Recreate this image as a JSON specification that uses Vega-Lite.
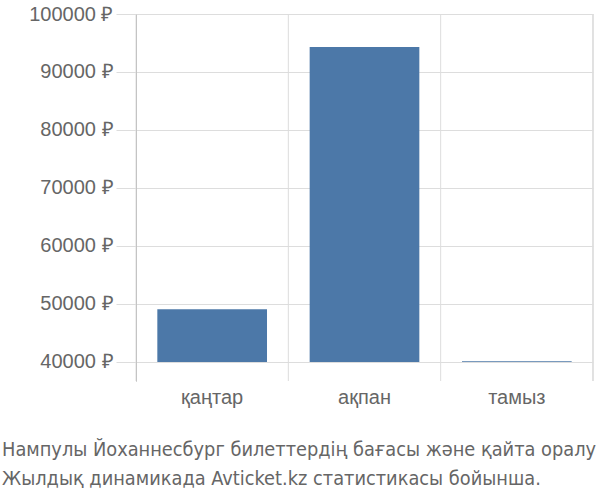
{
  "$schema": "https://vega.github.io/schema/vega-lite/v6.json",
  "width": 457,
  "height": 367,
  "autosize": {"type": "none"},
  "padding": {"left": 136, "top": 14, "right": 7, "bottom": 119},
  "background": "white",
  "config": {
    "view": {"stroke": null},
    "font": "Liberation Sans"
  },
  "title": {
    "text": ["Нампулы Йоханнесбург билеттердің бағасы және қайта оралу", "Жылдық динамикада Avticket.kz статистикасы бойынша."],
    "orient": "bottom",
    "anchor": "start",
    "frame": "group",
    "dx": -134,
    "offset": 33,
    "font": "Liberation Sans Narrow, DejaVu Sans Condensed, sans-serif",
    "fontSize": 19.8,
    "fontWeight": "normal",
    "color": "#666",
    "lineHeight": 29
  },
  "data": {
    "values": [
      {"month": "қаңтар", "price": 49100},
      {"month": "ақпан", "price": 94300},
      {"month": "тамыз", "price": 40150}
    ]
  },
  "layer": [
    {
      "mark": {"type": "bar", "color": "#4c78a8", "width": {"band": 0.72}},
      "encoding": {
        "x": {
          "field": "month",
          "type": "nominal",
          "sort": null,
          "scale": {"paddingInner": 0, "paddingOuter": 0},
          "axis": {
            "title": null,
            "bandPosition": 0.5,
            "labelAlign": "center",
            "labelAngle": 0,
            "labelFontSize": 20,
            "labelColor": "#666",
            "labelPadding": 6,
            "domain": false,
            "ticks": false,
            "grid": false
          }
        },
        "y": {
          "field": "price",
          "type": "quantitative",
          "scale": {"domain": [36724, 100000], "nice": false, "zero": false},
          "axis": {
            "title": null,
            "values": [40000, 50000, 60000, 70000, 80000, 90000, 100000],
            "labelExpr": "datum.value + ' ₽'",
            "labelFontSize": 20,
            "labelColor": "#666",
            "labelPadding": 3,
            "tickSize": 20,
            "tickColor": "#ddd",
            "gridColor": "#ddd",
            "domainColor": "#aaa"
          }
        },
        "y2": {"datum": 40000}
      }
    },
    {
      "mark": {"type": "rule", "color": "#ddd", "strokeWidth": 1},
      "encoding": {
        "x": {"field": "month", "type": "nominal", "sort": null, "bandPosition": 0}
      }
    },
    {
      "mark": {"type": "rule", "color": "#ddd", "strokeWidth": 1},
      "encoding": {
        "x": {"datum": "тамыз", "type": "nominal", "bandPosition": 1}
      }
    }
  ]
}
